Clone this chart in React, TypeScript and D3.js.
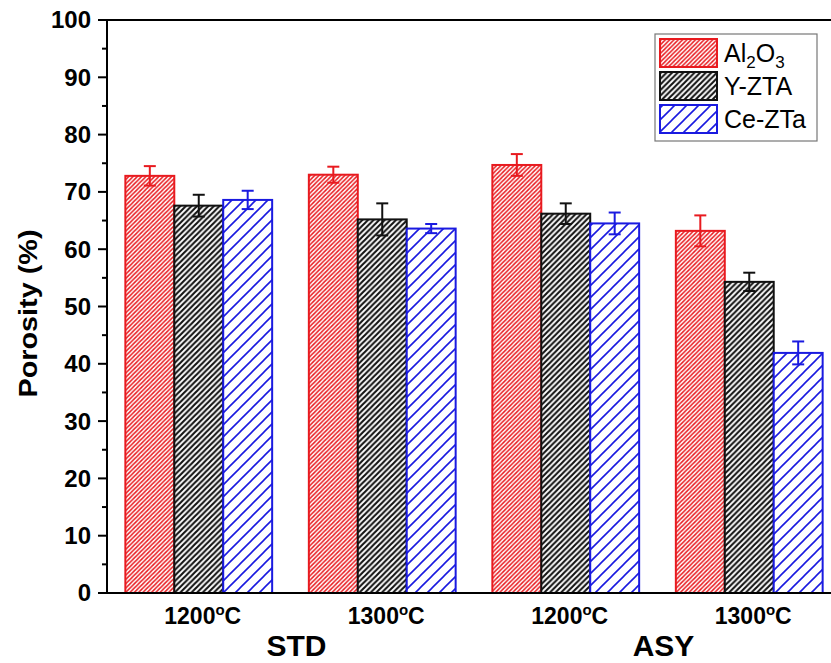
import React from "react";
import * as d3 from "d3";

const groups = ["STD-1200", "STD-1300", "ASY-1200", "ASY-1300"];
const groupTemps = ["1200", "1300", "1200", "1300"];
const series = ["Al2O3", "Y-ZTA", "Ce-ZTa"];
const al2o3 = [72.8, 73.0, 74.7, 63.2];
const al2o3Err = [1.7, 1.4, 1.9, 2.7];
const yzta = [67.6, 65.2, 66.2, 54.3];
const yztaErr = [1.9, 2.8, 1.8, 1.6];
const cezta = [68.6, 63.6, 64.5, 41.9];
const ceztaErr = [1.6, 0.8, 1.9, 2.0];
const yTicks = [0, 10, 20, 30, 40, 50, 60, 70, 80, 90, 100];
const supGroups = ["STD", "ASY"];

const W = 831;
const H = 663;
const left = 107;
const top = 20;
const bottom = 593;

const colors = ["#e81a1f", "#111111", "#1a1ae0"];
const patterns = [
  { id: "hatchRed", period: 4.3, width: 1.5 },
  { id: "hatchBlack", period: 5.6, width: 2.1 },
  { id: "hatchBlue", period: 12, width: 1.6 },
];

export default function App() {
  const x = d3.scaleBand<string>().domain(groups).range([left, left + 4 * 183.5]).paddingInner(0.2).paddingOuter(0.1);
  const xs = d3.scaleBand<string>().domain(series).range([0, x.bandwidth()]);
  const y = d3.scaleLinear().domain([0, 100]).range([bottom, top]);
  const vals = [al2o3, yzta, cezta];
  const errs = [al2o3Err, yztaErr, ceztaErr];
  const minor = d3.range(5, 100, 10);
  const font = "'Liberation Sans', Arial, sans-serif";

  const hatchPath = (p: number) =>
    `M${-p / 2},${p / 2} L${p / 2},${-p / 2} M0,${p} L${p},0 M${p / 2},${p * 1.5} L${p * 1.5},${p / 2}`;

  return (
    <svg width={W} height={H} style={{ position: "absolute", left: 0, top: 0, background: "#fff" }} fontFamily={font}>
      <defs>
        {patterns.map((p, i) => (
          <pattern key={p.id} id={p.id} patternUnits="userSpaceOnUse" width={p.period} height={p.period}>
            <rect width={p.period} height={p.period} fill="#fff" />
            <path d={hatchPath(p.period)} stroke={colors[i]} strokeWidth={p.width} />
          </pattern>
        ))}
      </defs>
      <rect width={W} height={H} fill="#fff" />

      {/* bars */}
      {groups.map((g, gi) => (
        <g key={g}>
          {series.map((s, si) => {
            const x0 = (x(g) as number) + (xs(s) as number);
            const v = vals[si][gi];
            return (
              <rect
                key={s}
                x={x0}
                y={y(v)}
                width={xs.bandwidth()}
                height={y(0) - y(v)}
                fill={`url(#${patterns[si].id})`}
                stroke={colors[si]}
                strokeWidth={2}
              />
            );
          })}
          {series.map((s, si) => {
            const cx = (x(g) as number) + (xs(s) as number) + xs.bandwidth() / 2;
            const v = vals[si][gi];
            const e = errs[si][gi];
            return (
              <g key={s + "err"} stroke={colors[si]} strokeWidth={2}>
                <line x1={cx} x2={cx} y1={y(v + e)} y2={y(v - e)} />
                <line x1={cx - 6} x2={cx + 6} y1={y(v + e)} y2={y(v + e)} />
                <line x1={cx - 6} x2={cx + 6} y1={y(v - e)} y2={y(v - e)} />
              </g>
            );
          })}
        </g>
      ))}

      {/* axes */}
      <line x1={left} x2={W} y1={top} y2={top} stroke="#000" strokeWidth={2} />
      <line x1={left} x2={W} y1={bottom} y2={bottom} stroke="#000" strokeWidth={2} />
      <line x1={left} x2={left} y1={top - 1} y2={bottom + 1} stroke="#000" strokeWidth={2} />
      {yTicks.map((t) => (
        <g key={t}>
          <line x1={left - 9} x2={left} y1={y(t)} y2={y(t)} stroke="#000" strokeWidth={2} />
          <text x={left - 16} y={y(t)} dy="0.35em" textAnchor="end" fontSize={24} fontWeight="bold">
            {t}
          </text>
        </g>
      ))}
      {minor.map((t) => (
        <line key={t} x1={left - 5} x2={left} y1={y(t)} y2={y(t)} stroke="#000" strokeWidth={2} />
      ))}

      {/* x labels */}
      {groups.map((g, gi) => (
        <text
          key={g}
          x={(x(g) as number) + x.bandwidth() / 2 + 4}
          y={624}
          textAnchor="middle"
          fontSize={23}
          fontWeight="bold"
        >
          {groupTemps[gi]}
          <tspan fontSize={15} dy={-9}>o</tspan>
          <tspan dy={9}>C</tspan>
        </text>
      ))}
      {supGroups.map((s, i) => {
        const g1 = groups[i * 2];
        const g2 = groups[i * 2 + 1];
        const cx = ((x(g1) as number) + x.bandwidth() / 2 + (x(g2) as number) + x.bandwidth() / 2) / 2 + 6;
        return (
          <text key={s} x={cx} y={656} textAnchor="middle" fontSize={30} fontWeight="bold">
            {s}
          </text>
        );
      })}

      {/* y title */}
      <text
        transform={`translate(37, ${(top + bottom) / 2 + 7}) rotate(-90)`}
        textAnchor="middle"
        fontSize={25}
        fontWeight="bold"
        textLength={168}
        lengthAdjust="spacingAndGlyphs"
      >
        Porosity (%)
      </text>

      {/* legend */}
      <g>
        <rect x={655} y={34} width={162} height={107} fill="#fff" stroke="#777" strokeWidth={1.2} />
        {series.map((s, i) => {
          const ly = 39 + i * 33;
          return (
            <g key={s}>
              <rect x={660} y={ly} width={57} height={28} fill={`url(#${patterns[i].id})`} stroke={colors[i]} strokeWidth={2} />
              <text x={724} y={ly + 14} dy="0.36em" fontSize={25}>
                {i === 0 ? (
                  <>
                    Al<tspan fontSize={17} dy={6}>2</tspan>
                    <tspan dy={-6}>O</tspan>
                    <tspan fontSize={17} dy={6}>3</tspan>
                  </>
                ) : (
                  s
                )}
              </text>
            </g>
          );
        })}
      </g>
    </svg>
  );
}
